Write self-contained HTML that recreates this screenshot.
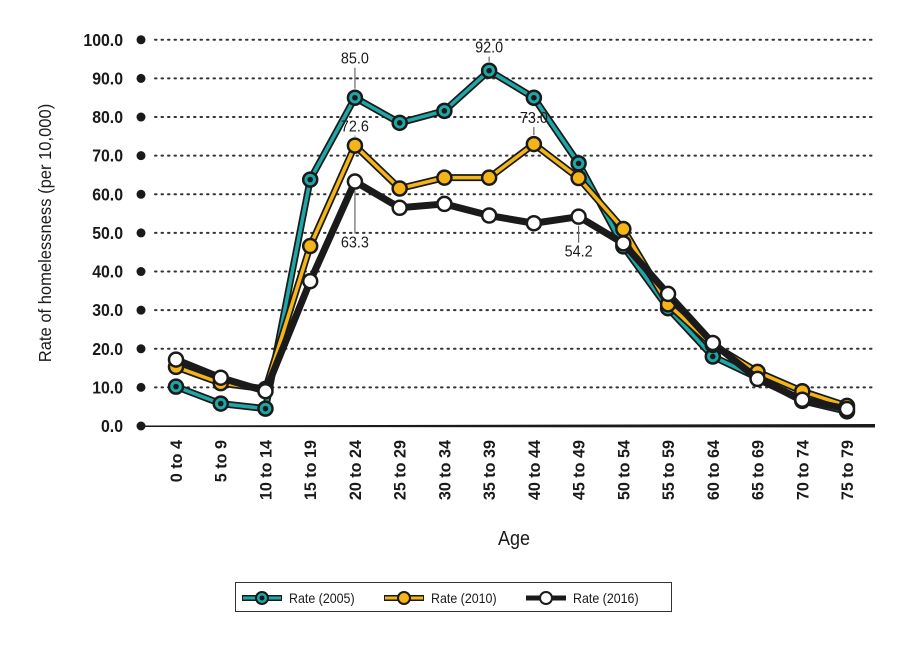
<!DOCTYPE html>
<html><head><meta charset="utf-8"><style>
body{margin:0;background:#fff;}
svg text{font-family:"Liberation Sans",sans-serif;}
</style></head><body>
<svg id="c" width="902" height="644" xmlns="http://www.w3.org/2000/svg"></svg>
<script>
const categories=["0 to 4","5 to 9","10 to 14","15 to 19","20 to 24","25 to 29","30 to 34","35 to 39","40 to 44","45 to 49","50 to 54","55 to 59","60 to 64","65 to 69","70 to 74","75 to 79"];
const rate2005=[10.2,5.8,4.5,63.8,85.0,78.5,81.6,92.0,85.0,68.0,46.5,30.5,18.0,12.5,6.5,3.8];
const rate2010=[15.3,11.1,9.6,46.6,72.6,61.5,64.3,64.3,73.0,64.2,51.0,31.5,21.0,14.0,9.0,5.2];
const rate2016=[17.2,12.5,9.0,37.5,63.3,56.5,57.5,54.5,52.5,54.2,47.3,34.2,21.5,12.2,6.8,4.4];
const yTicks=[0,10,20,30,40,50,60,70,80,90,100];
const annotations=[{s:"2005",i:4,dy:-39},{s:"2005",i:7,dy:-23},{s:"2010",i:4,dy:-19},{s:"2010",i:8,dy:-26},{s:"2016",i:4,dy:61},{s:"2016",i:9,dy:35}];

const svg=document.getElementById('c');const NS="http://www.w3.org/2000/svg";
function el(t,a,p){const e=document.createElementNS(NS,t);for(const k in a)e.setAttribute(k,a[k]);(p||svg).appendChild(e);return e;}
const x=i=>176+i*(847-176)/(categories.length-1);
const y=v=>426-v*3.862;
yTicks.forEach(t=>{
  if(t>0){const g=el('line',{x1:155,x2:875,y1:y(t),y2:y(t),stroke:'#333','stroke-width':2,'stroke-dasharray':'1.5 5','stroke-linecap':'round'});
  
  }
  const d=el('circle',{cx:141,cy:y(t),r:4.5,fill:'#1a1a1a'});
  
  
  const tx=el('text',{transform:`translate(123,${y(t)+6}) scale(0.88,1)`,'text-anchor':'end','font-size':18,'font-weight':'bold',fill:'#1a1a1a'});
  tx.textContent=t.toFixed(1);
  
  
});
const ax=el('polygon',{points:`141,425.5 875,424 875,427.5 141,427`,fill:'#1a1a1a'});


categories.forEach((c,i)=>{
  const t=el('text',{transform:`translate(${x(i)+6},440) rotate(-90) scale(0.95,1)`,'text-anchor':'end','font-size':17,'font-weight':'bold',fill:'#1a1a1a'});
  t.textContent=c;
  
  
});
let t=el('text',{transform:'translate(514,545) scale(0.9,1)','text-anchor':'middle','font-size':20,fill:'#1a1a1a'});t.textContent='Age';


t=el('text',{transform:'translate(51,233) rotate(-90) scale(0.92,1)','text-anchor':'middle','font-size':18,fill:'#1a1a1a'});t.textContent='Rate of homelessness (per 10,000)';



function series(vals,name,col,style){
  const g=el('g',{});
  
  
  const pts=vals.map((v,i)=>x(i)+','+y(v)).join(' ');
  if(style==='black'){el('polyline',{points:pts,fill:'none',stroke:'#1a1a1a','stroke-width':7,'stroke-linejoin':'round'},g);}
  else{el('polyline',{points:pts,fill:'none',stroke:'#1a1a1a','stroke-width':7,'stroke-linejoin':'round'},g);
       el('polyline',{points:pts,fill:'none',stroke:col,'stroke-width':3.5,'stroke-linejoin':'round'},g);}
  vals.forEach((v,i)=>{
    const m=el('circle',{cx:x(i),cy:y(v),r:7,fill:style==='black'?'#fff':col,stroke:'#1a1a1a','stroke-width':2.5},g);
    
    
    if(style==='teal')el('circle',{cx:x(i),cy:y(v),r:2.8,fill:'#1a1a1a'},g);
  });
}
series(rate2005,'series-2005','#1fa7a8','teal');
series(rate2010,'series-2010','#f5b516','yellow');
series(rate2016,'series-2016','#1a1a1a','black');
const sm={"2005":rate2005,"2010":rate2010,"2016":rate2016};
annotations.forEach(a=>{
  const v=sm[a.s][a.i],px=x(a.i),py=y(v);
  const s=Math.sign(a.dy);
  el('line',{x1:px,x2:px,y1:py+s*9,y2:py+a.dy-s*9,stroke:'#666','stroke-width':1.2});
  const tx=el('text',{transform:`translate(${px},${py+a.dy+5}) scale(0.9,1)`,'text-anchor':'middle','font-size':16,fill:'#1a1a1a'});
  tx.textContent=v.toFixed(1);
  
  
});
const lg=el('g',{});


el('rect',{x:235.5,y:582.5,width:436,height:29,fill:'#fff',stroke:'#333','stroke-width':1},lg);
[["Rate (2005)",'#1fa7a8','teal',242],["Rate (2010)",'#f5b516','yellow',384],["Rate (2016)",'#1a1a1a','black',526]].forEach(([lab,col,st,lx])=>{
  const e=el('g',{},lg);
  
  
  el('line',{x1:lx,x2:lx+40,y1:598,y2:598,stroke:'#1a1a1a','stroke-width':st==='black'?5:6},e);
  if(st!=='black')el('line',{x1:lx+1,x2:lx+39,y1:598,y2:598,stroke:col,'stroke-width':3},e);
  el('circle',{cx:lx+20,cy:598,r:6,fill:st==='black'?'#fff':col,stroke:'#1a1a1a','stroke-width':2},e);
  if(st==='teal')el('circle',{cx:lx+20,cy:598,r:2.5,fill:'#1a1a1a'},e);
  const tt=el('text',{transform:`translate(${lx+47},603) scale(0.92,1)`,'font-size':13.5,fill:'#1a1a1a'},e);tt.textContent=lab;
});
</script>
</body></html>
